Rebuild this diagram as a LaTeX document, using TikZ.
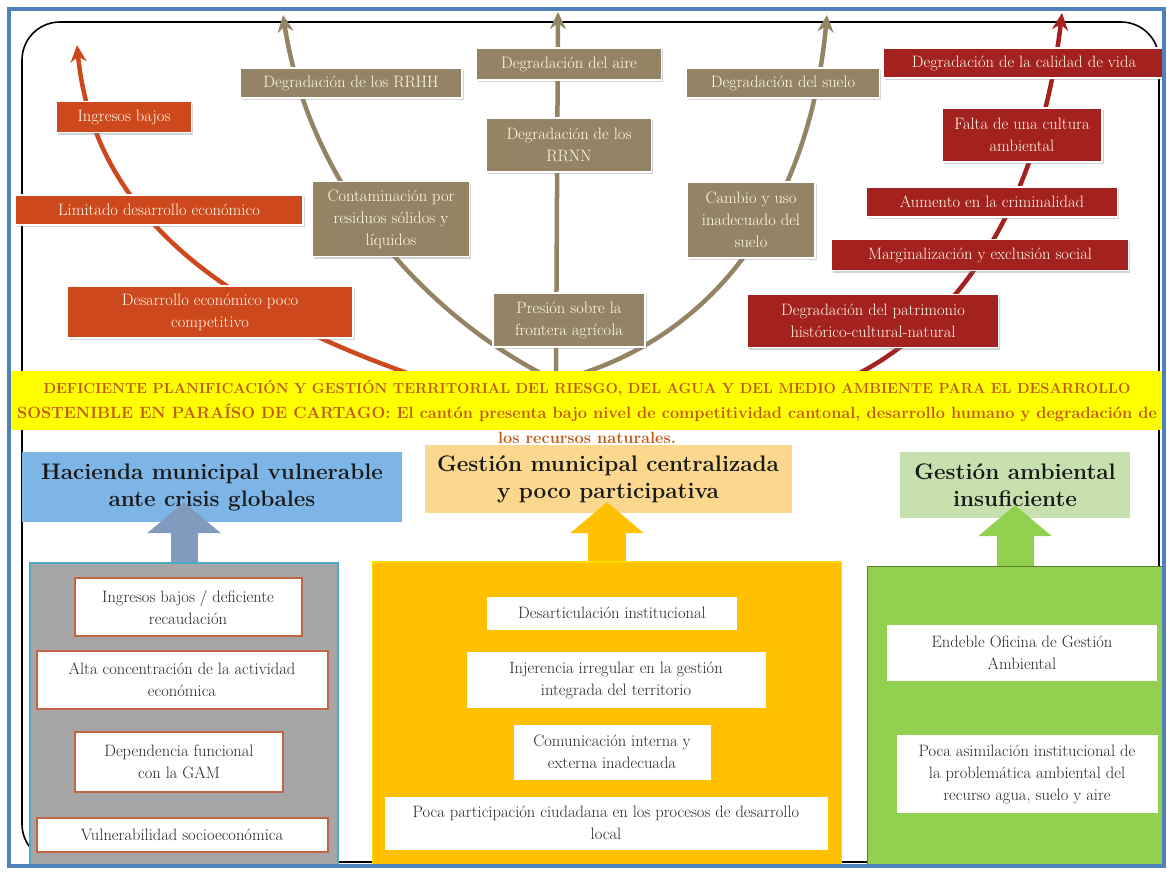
\documentclass[tikz,border=0pt]{standalone}
\usepackage{tikz}
\usetikzlibrary{positioning,arrows.meta,shadows}
\usepackage{xcolor}
\definecolor{marco}{RGB}{79,129,189}
\definecolor{naranja}{RGB}{206,72,30}
\definecolor{cafe}{RGB}{148,132,100}
\definecolor{vino}{RGB}{163,33,30}
\definecolor{amarillo}{RGB}{255,255,0}
\definecolor{textoban}{RGB}{192,88,20}
\definecolor{azultit}{RGB}{125,182,230}
\definecolor{azulflecha}{RGB}{128,155,190}
\definecolor{oro}{RGB}{255,192,0}
\definecolor{orotit}{RGB}{251,216,142}
\definecolor{verde}{RGB}{146,208,80}
\definecolor{verdetit}{RGB}{198,224,174}
\definecolor{gris}{RGB}{166,166,166}
\definecolor{borde}{RGB}{192,102,70}
\definecolor{celeste}{RGB}{75,172,198}

\begin{document}
\begin{tikzpicture}[x=1pt,y=-1pt,
  curva/.style={line width=4.5pt,-{Stealth[length=17pt,width=16pt]}},
  efecto/.style={rectangle,draw=white,line width=1.2pt,text=white!92!yellow,align=center,inner sep=2pt,
    font=\fontsize{16.5}{22}\selectfont,drop shadow={shadow xshift=1.5pt,shadow yshift=-2pt,opacity=0.35}},
  titulo/.style={rectangle,align=center,inner sep=0pt,text=black!90,font=\bfseries\fontsize{22.5}{27}\selectfont},
  bloque/.style={rectangle,inner sep=0pt},
  causa/.style={rectangle,fill=white,align=center,inner sep=2pt,text=black!85,font=\fontsize{16.5}{22}\selectfont},
  flecha/.style={-{Triangle[length=31pt,width=72pt]}}]
\useasboundingbox (0,0) rectangle (1167,871);

% marco del arbol
\draw[line width=1.6pt,rounded corners=38pt] (22,22) rectangle (1159,862);

% ramas de efectos
\coordinate (baseN) at (430,381);
\coordinate (puntaN) at (77,45);
\coordinate (baseC) at (556,381);
\coordinate (puntaCI) at (283,15);
\coordinate (puntaCM) at (558,12);
\coordinate (puntaCD) at (827,15);
\coordinate (baseV) at (839,383);
\coordinate (puntaV) at (1062,13);
\draw[curva,naranja] (baseN) .. controls (250,320) and (95,230) .. (puntaN);
\draw[curva,cafe] (baseC) .. controls (430,320) and (310,190) .. (puntaCI);
\draw[curva,cafe] (baseC) -- (puntaCM);
\draw[curva,cafe] (baseC) .. controls (720,340) and (810,200) .. (puntaCD);
\draw[curva,vino] (baseV) .. controls (960,330) and (1040,200) .. (puntaV);

% efectos economicos
\node[efecto,fill=naranja,minimum width=135pt,minimum height=31pt] (ingresos) at (124,117) {Ingresos bajos};
\node[efecto,fill=naranja,minimum width=288pt,minimum height=30pt] (limitado) at (159,210) {Limitado desarrollo económico};
\node[efecto,fill=naranja,minimum width=286pt,minimum height=52pt] (competitivo) at (210,312) {Desarrollo económico poco\\competitivo};

% efectos ambientales
\node[efecto,fill=cafe,minimum width=222pt,minimum height=30pt] (rrhh) at (351,83) {Degradación de los RRHH};
\node[efecto,fill=cafe,minimum width=185pt,minimum height=32pt] (aire) at (569,64) {Degradación del aire};
\node[efecto,fill=cafe,minimum width=165pt,minimum height=54pt] (rrnn) at (569,145) {Degradación de los\\RRNN};
\node[efecto,fill=cafe,minimum width=193pt,minimum height=30pt] (suelo) at (783,83) {Degradación del suelo};
\node[efecto,fill=cafe,minimum width=157pt,minimum height=75pt] (residuos) at (391,219) {Contaminación por\\residuos sólidos y\\líquidos};
\node[efecto,fill=cafe,minimum width=128pt,minimum height=76pt] (cambio) at (751,220) {Cambio y uso\\inadecuado del\\suelo};
\node[efecto,fill=cafe,minimum width=152pt,minimum height=54pt] (presion) at (569,320) {Presión sobre la\\frontera agrícola};

% efectos sociales
\node[efecto,fill=vino,minimum width=281pt,minimum height=30pt] (calidad) at (1024,63) {Degradación de la calidad de vida};
\node[efecto,fill=vino,minimum width=160pt,minimum height=54pt] (cultura) at (1022,135) {Falta de una cultura\\ambiental};
\node[efecto,fill=vino,minimum width=251pt,minimum height=30pt] (crimen) at (992,202) {Aumento en la criminalidad};
\node[efecto,fill=vino,minimum width=297pt,minimum height=31pt] (margina) at (980,255) {Marginalización y exclusión social};
\node[efecto,fill=vino,minimum width=251pt,minimum height=53pt] (patrimonio) at (873,321) {Degradación del patrimonio\\histórico-cultural-natural};

% problema central
\fill[amarillo] (10,371) rectangle (1163,430);
\node[font=\bfseries\fontsize{16.3}{25}\selectfont,text=textoban,align=center,inner sep=0pt] (problema) at (587,412)
  {{\fontsize{14.6}{25}\selectfont DEFICIENTE PLANIFICACIÓN Y GESTIÓN TERRITORIAL DEL RIESGO, DEL AGUA Y DEL MEDIO AMBIENTE PARA EL DESARROLLO}\\
   SOSTENIBLE EN PARAÍSO DE CARTAGO: El cantón presenta bajo nivel de competitividad cantonal, desarrollo humano y degradación de\\
   los recursos naturales.};

% causas
\node[titulo,fill=azultit,minimum width=380pt,minimum height=70pt] (htit) at (212,487) {Hacienda municipal vulnerable\\ante crisis globales};
\node[titulo,fill=orotit,minimum width=367pt,minimum height=68pt] (gtit) at (608,479) {Gestión municipal centralizada\\y poco participativa};
\node[titulo,fill=verdetit,minimum width=230pt,minimum height=66pt] (atit) at (1015,485) {Gestión ambiental\\insuficiente};

\node[bloque,fill=gris,draw=celeste,line width=2pt,minimum width=308pt,minimum height=303pt] (hcont) at (184,714) {};
\node[bloque,fill=oro,draw=oro!60!yellow,line width=1.5pt,minimum width=469pt,minimum height=304pt] (gcont) at (607,714) {};
\node[bloque,fill=verde,draw=verde!60!black,line width=1pt,minimum width=296pt,minimum height=299pt] (acont) at (1015,716) {};

\draw[flecha,line width=27pt,azulflecha] (hcont.north) -- ([yshift=20pt]hcont.north |- htit.south);
\draw[flecha,line width=38pt,oro] (gcont.north) -- ([yshift=11pt]gcont.north |- gtit.south);
\draw[flecha,line width=37pt,verde] (acont.north) -- ([yshift=13pt]acont.north |- atit.south);

\node[causa,draw=borde,line width=2pt,minimum width=227pt,minimum height=58pt] (recauda) at (188,607) {Ingresos bajos / deficiente\\recaudación};
\node[causa,draw=borde,line width=2pt,minimum width=291pt,minimum height=58pt] (concentra) at (182,680) {Alta concentración de la actividad\\económica};
\node[causa,draw=borde,line width=2pt,minimum width=208pt,minimum height=60pt] (gam) at (179,762) {Dependencia funcional\\con la GAM};
\node[causa,draw=borde,line width=2pt,minimum width=291pt,minimum height=34pt] (socio) at (182,835) {Vulnerabilidad socioeconómica};

\node[causa,minimum width=250pt,minimum height=33pt] (desart) at (612,613) {Desarticulación institucional};
\node[causa,minimum width=299pt,minimum height=56pt] (injer) at (616,680) {Injerencia irregular en la gestión\\integrada del territorio};
\node[causa,minimum width=197pt,minimum height=55pt] (comun) at (612,752) {Comunicación interna y\\externa inadecuada};
\node[causa,minimum width=443pt,minimum height=53pt] (particip) at (606,823) {Poca participación ciudadana en los procesos de desarrollo\\local};

\node[causa,minimum width=270pt,minimum height=56pt] (oficina) at (1022,653) {Endeble Oficina de Gestión\\Ambiental};
\node[causa,minimum width=261pt,minimum height=78pt] (asimila) at (1027,774) {Poca asimilación institucional de\\la problemática ambiental del\\recurso agua, suelo y aire};

% borde exterior
\draw[marco,line width=4pt] (9,9) rectangle (1164,866);
\end{tikzpicture}
\end{document}
